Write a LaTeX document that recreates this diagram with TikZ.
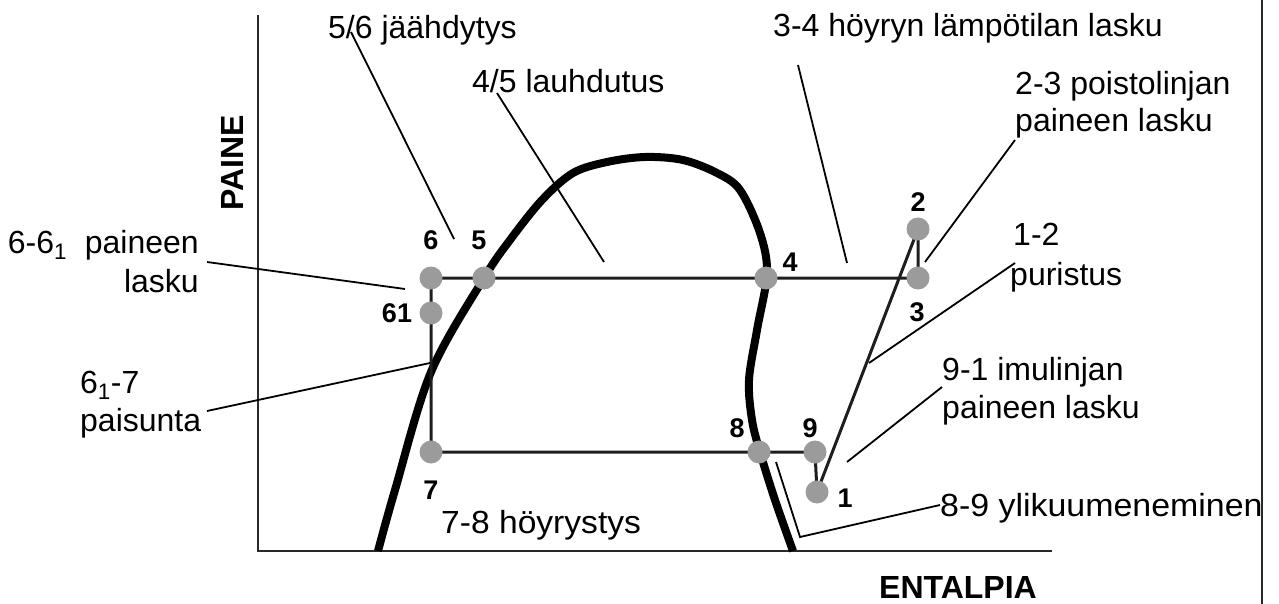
\documentclass[tikz,border=0pt]{standalone}
\usepackage{fontspec}
\setmainfont{Liberation Sans}
\definecolor{dotgray}{RGB}{155,155,155}
\definecolor{cycgray}{RGB}{30,30,30}
\definecolor{axgray}{RGB}{40,40,40}
\begin{document}
\begin{tikzpicture}[x=1pt,y=-1pt,
  txt/.style={font=\fontsize{32}{38}\selectfont, inner sep=0pt, anchor=base west},
  txtr/.style={txt, anchor=base east},
  num/.style={font=\fontsize{27}{32}\selectfont\bfseries, inner sep=0pt},
  axlab/.style={font=\fontsize{32}{38}\selectfont\bfseries, inner sep=0pt},
  dot/.style={circle, fill=dotgray, minimum size=23pt, inner sep=0pt},
  cyc/.style={line width=3pt, draw=cycgray},
  lead/.style={line width=1.8pt, draw=black},
  ax/.style={line width=2.5pt, draw=axgray}]
\useasboundingbox (0,0) rectangle (1279,604);

% axes and border
\coordinate (ytop) at (258,15);
\coordinate (orig) at (258,551);
\coordinate (xend) at (1052,551);
\coordinate (btop) at (1262,0);
\coordinate (bbot) at (1262,604);
\draw[ax] (ytop) -- (orig) -- (xend);
\draw[line width=2pt, draw=axgray] (btop) -- (bbot);

% saturation curve
\draw[line width=8pt] plot[smooth, tension=0.55] coordinates {(378,551) (395,490) (431,372) (484,278) (510,240) (542,200) (573,173) (607,162) (645,157) (683,160) (717,173) (740,190) (760,233) (767,273) (757,330) (749,380) (752,420) (760,452) (775,500) (793,551)};

% cycle points
\coordinate (c1) at (817,492);
\coordinate (c2) at (918,229);
\coordinate (c3) at (918,278);
\coordinate (c4) at (766,278);
\coordinate (c5) at (484,278);
\coordinate (c6) at (431,278);
\coordinate (c61) at (431,313);
\coordinate (c7) at (431,452);
\coordinate (c8) at (759,452);
\coordinate (c9) at (815,452);

\draw[cyc] (c6) -- (c5) -- (c4) -- (c3) -- (c2) -- (c1) -- (c9) -- (c8) -- (c7) -- (c61) -- (c6);

\foreach \p in {1,2,3,4,5,6,61,7,8,9} \node[dot] (p\p) at (c\p) {};

% point labels
\node[num] (l6) at (431,240) {6};
\node[num] (l5) at (479,240) {5};
\node[num] (l61) at (397,313) {61};
\node[num] (l4) at (790,262) {4};
\node[num] (l2) at (918,202) {2};
\node[num] (l3) at (917,312) {3};
\node[num] (l9) at (810,428) {9};
\node[num] (l8) at (737,428) {8};
\node[num] (l1) at (845,498) {1};
\node[num] (l7) at (431,490) {7};

% axis labels
\node[axlab, rotate=90] (paine) at (232,163) {PAINE};
\node[axlab] (entalpia) at (958,587) {ENTALPIA};

% texts
\node[txt] (t56) at (328,39) {5/6 jäähdytys};
\node[txt] (t45) at (472,93) {4/5 lauhdutus};
\node[txt] (t34) at (773,37) {3-4 höyryn lämpötilan lasku};
\node[txt] (t23a) at (1015,95) {2-3 poistolinjan};
\node[txt] (t23b) at (1015,132) {paineen lasku};
\node[txt] (t12a) at (1013,245) {1-2};
\node[txt] (t12b) at (1010,285) {puristus};
\node[txt] (t91a) at (942,380) {9-1 imulinjan};
\node[txt] (t91b) at (942,418) {paineen lasku};
\node[txt, xscale=1.06] (t89) at (940,516) {8-9 ylikuumeneminen};
\node[txt, xscale=1.05] (t78) at (441,533) {7-8 höyrystys};
\node[txtr] (t66a) at (199,253) {6-6\textsubscript{1}\ \ paineen};
\node[txtr] (t66b) at (199,292) {lasku};
\node[txt] (t617a) at (80,393) {6\textsubscript{1}-7};
\node[txt] (t617b) at (80,431) {paisunta};

% leader lines
\coordinate (a56) at (351,32);   \coordinate (b56) at (454,239);
\coordinate (a45) at (497,93);   \coordinate (b45) at (604,262);
\coordinate (a34) at (798,65);   \coordinate (b34) at (847,263);
\coordinate (a23) at (1015,140); \coordinate (b23) at (925,262);
\coordinate (a12) at (1015,263); \coordinate (b12) at (869,363);
\coordinate (a91) at (942,387);  \coordinate (b91) at (847,462);
\coordinate (a89) at (940,505);  \coordinate (k89) at (800,537); \coordinate (b89) at (776,462);
\coordinate (a66) at (207,262);  \coordinate (b66) at (405,289);
\coordinate (a617) at (207,411); \coordinate (b617) at (430,363);
\draw[lead] (a56) -- (b56);
\draw[lead] (a45) -- (b45);
\draw[lead] (a34) -- (b34);
\draw[lead] (a23) -- (b23);
\draw[lead] (a12) -- (b12);
\draw[lead] (a91) -- (b91);
\draw[lead] (a89) -- (k89) -- (b89);
\draw[lead] (a66) -- (b66);
\draw[lead] (a617) -- (b617);
\end{tikzpicture}
\end{document}
